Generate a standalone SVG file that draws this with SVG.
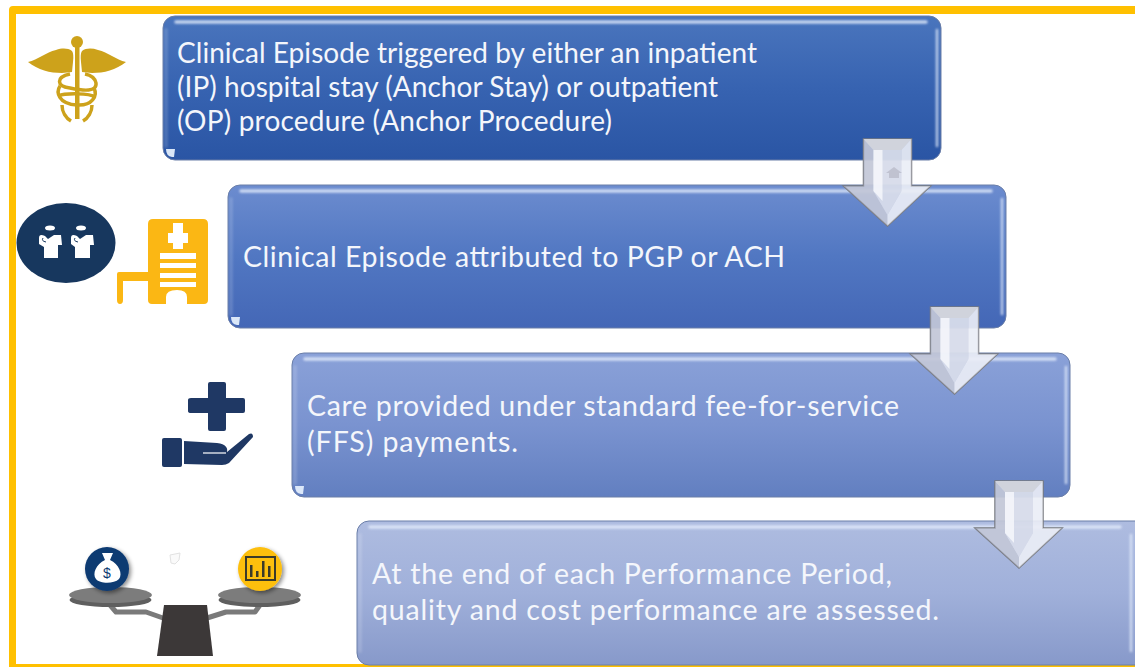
<svg xmlns="http://www.w3.org/2000/svg" width="1135" height="669" viewBox="0 0 1135 669">
<style>
.t{font-family:"Lato","Carlito","Liberation Sans",sans-serif;font-size:28.500px;fill:#f4f6fb}
.t1{font-size:28px}
.box{stroke:#6a7ea8;stroke-width:1}
.hl{fill:none;stroke:#e4edfc;stroke-width:3.500;stroke-linecap:round;opacity:.8;filter:url(#soft)}
.hr{fill:none;stroke:#e4edfc;stroke-width:2.500;stroke-linecap:round;opacity:.75;filter:url(#soft)}
.shade{fill:none;stroke:#fff;stroke-width:4;stroke-linecap:round;opacity:.14;filter:url(#soft)}
.glint{fill:#e3eefc;opacity:.95;filter:url(#tiny)}
.ca{fill:none;stroke:#cda21b;stroke-width:3.500}
.arm{fill:none;stroke:#7a7a7a;stroke-width:5;stroke-linejoin:round}
</style>
<defs>
<filter id="soft" filterUnits="userSpaceOnUse" x="0" y="0" width="1135" height="669"><feGaussianBlur stdDeviation="1"/></filter>
<filter id="tiny" filterUnits="userSpaceOnUse" x="0" y="0" width="1135" height="669"><feGaussianBlur stdDeviation=".5"/></filter>
<filter id="sh" x="-30%" y="-30%" width="160%" height="160%"><feDropShadow dx="2" dy="2" stdDeviation="2" flood-color="#000" flood-opacity=".45"/></filter>
<linearGradient id="g1" x1="0" y1="0" x2="0" y2="1"><stop offset="0" stop-color="#4a75bd"/><stop offset=".5" stop-color="#3763b1"/><stop offset="1" stop-color="#2a55a4"/></linearGradient>
<linearGradient id="g2" x1="0" y1="0" x2="0" y2="1"><stop offset="0" stop-color="#6c8ccf"/><stop offset=".5" stop-color="#5177c2"/><stop offset="1" stop-color="#4467b6"/></linearGradient>
<linearGradient id="g3" x1="0" y1="0" x2="0" y2="1"><stop offset="0" stop-color="#8aa1d8"/><stop offset=".5" stop-color="#7a93d0"/><stop offset="1" stop-color="#627fc0"/></linearGradient>
<linearGradient id="g4" x1="0" y1="0" x2="0" y2="1"><stop offset="0" stop-color="#aebce0"/><stop offset=".5" stop-color="#a0b0da"/><stop offset="1" stop-color="#8799ca"/></linearGradient>
<g id="arrow">
<path d="M-24 0H24V47H43L0 87L-44 47H-24Z" fill="#dfe3f0" fill-opacity=".82" stroke="#77797f" stroke-width="1.500"/>
<path d="M-24 0L-14 11V52L0 76V87L-44 47H-24Z" fill="#b3b8c9" opacity=".6"/>
<path d="M-24 0H24L14 11H-14Z" fill="#d0d3dc"/>
<path d="M24 0L14 11V52L0 76V87L43 47H24Z" fill="#f2f4fa" opacity=".55"/>
<path d="M-14 11H14V52L0 76L-14 52Z" fill="#d4d9e8" opacity=".75"/>
<path d="M-14 11H-5V62L-14 52Z" fill="#f8f9fd" opacity=".8"/>
</g>
</defs>

<g id="frame" fill="#ffc000">
<path d="M9 669V10Q9 6 13 6H1135V14H16V664H1135V667H9Z"/>
</g>

<g id="node-1">
<rect class="box" x="163" y="16" width="778" height="144" rx="12" fill="url(#g1)"/>
<path class="hl" d="M176 22H926"/>
<path class="hr" d="M937 30V146"/>
<path class="shade" d="M166 30V146"/>
<path class="glint" d="M166 149L175 149L174 157H172Q166 156 166 149Z"/>
<text class="t t1" x="177" y="63" textLength="580">Clinical Episode triggered by either an inpatient</text>
<text class="t t1" x="177" y="97" textLength="541">(IP) hospital stay (Anchor Stay) or outpatient</text>
<text class="t t1" x="177" y="131" textLength="435">(OP) procedure (Anchor Procedure)</text>
</g>
<g id="node-2">
<rect class="box" x="228" y="185" width="778" height="143" rx="12" fill="url(#g2)"/>
<path class="hl" d="M241 191H991"/>
<path class="hr" d="M1002 199V314"/>
<path class="shade" d="M231 199V314"/>
<path class="glint" d="M231 317L240 317L239 325H237Q231 324 231 317Z"/>
<text class="t" x="243" y="267" textLength="542">Clinical Episode attributed to PGP or ACH</text>
</g>
<g id="node-3">
<rect class="box" x="292" y="353" width="778" height="144" rx="12" fill="url(#g3)"/>
<path class="hl" d="M305 359H1055"/>
<path class="hr" d="M1066 367V483"/>
<path class="shade" d="M295 367V483"/>
<path class="glint" d="M295 486L304 486L303 494H301Q295 493 295 486Z"/>
<text class="t" x="307" y="416" textLength="592">Care provided under standard fee-for-service</text>
<text class="t" x="307" y="452" textLength="211">(FFS) payments.</text>
</g>
<g id="node-4">
<rect class="box" x="357" y="521" width="790" height="144" rx="12" fill="url(#g4)"/>
<path class="hl" d="M370 527H1120"/>
<path class="hr" d="M1131 535V651"/>
<path class="shade" d="M360 535V651"/>
<text class="t" x="372" y="584" textLength="520">At the end of each Performance Period,</text>
<text class="t" x="372" y="620" textLength="567">quality and cost performance are assessed.</text>
</g>

<g id="connectors">
<use href="#arrow" x="887.500" y="139"/>
<use href="#arrow" x="954.500" y="307"/>
<use href="#arrow" x="1019" y="481"/>
<path d="M894 167L902 173H899V178H889V173H886Z" fill="#b9bcc9" opacity=".8"/>
</g>

<g id="icon-caduceus">
<circle cx="77" cy="42" r="6" fill="#cda21b"/>
<rect x="75" y="45" width="4.500" height="74" fill="#cda21b"/>
<path d="M28 62C38 60 46 52 56 50C62 48 68 48 72 51Q74 54 73 62L72 72L62 73C50 73 38 70 28 62Z" fill="#cda21b"/>
<path d="M126 62C116 60 108 52 98 50C92 48 86 48 82 51Q80 54 81 62L82 72L92 73C104 73 116 70 126 62Z" fill="#cda21b"/>
<path class="ca" d="M70 74C56 77 56 86 70 88C84 91 97 92 96 83C95 78 90 75 85 74"/>
<path class="ca" d="M60 86C56 92 58 104 77 105C92 106 98 96 94 88"/>
<path class="ca" d="M62 105C62 112 66 118 71 121"/>
<path class="ca" d="M92 105C92 112 88 118 83 121"/>
<path class="ca" d="M59 96C64 93 90 93 95 97"/>
</g>

<g id="icon-people">
<ellipse cx="66" cy="243" rx="49.500" ry="40" fill="#17375e"/>
<g fill="#fff">
<ellipse cx="50" cy="228" rx="5" ry="2.500"/>
<ellipse cx="81" cy="228" rx="5" ry="2.500"/>
<path d="M39 238Q39 233 45 236L48 239L54 235H61L62 245H58V258H44V247L39 244Z"/>
<path d="M71 238Q71 233 77 236L80 239L86 235H93L94 245H90V258H75V247L71 244Z"/>
</g>
<path d="M43 238Q41 241 46 242M75 238Q73 241 78 242" fill="none" stroke="#17375e" stroke-width="1"/>
</g>

<g id="icon-hospital">
<path d="M153 219H203Q208 219 208 224V300Q208 304 204 304H187V297Q187 290 177 290Q166 290 166 297V304H152Q148 304 148 300V281H123V300Q123 304 120 304Q117 304 117 300V274Q117 272 119 272H148V224Q148 219 153 219Z" fill="#fbb714"/>
<path d="M173 223H183V233H188V243H183V249H173V243H168V233H173Z" fill="#fff"/>
<g fill="#fff"><rect x="160" y="253" width="36" height="6"/><rect x="160" y="263" width="36" height="5"/><rect x="160" y="273" width="36" height="5"/><rect x="160" y="282" width="36" height="5"/></g>
</g>

<g id="icon-care" fill="#1f3864">
<path d="M210 382H224Q226 382 226 384V398H243Q245 398 245 400V411Q245 413 243 413H226V429Q226 431 224 431H210Q208 431 208 429V413H191Q188 413 188 411V400Q188 398 191 398H208V384Q208 382 210 382Z"/>
<rect x="162" y="438" width="20" height="29" rx="2"/>
<path d="M184 441L217 443C226 444 228 448 227 452L249 434Q253 432 253 437L229 463Q226 465 222 465L184 464Z"/>
<path d="M203 453H226" fill="none" stroke="#fff" stroke-width="1.200"/>
</g>

<g id="icon-scale">
<path class="arm" d="M110 605L116 612H146L163 618"/>
<path class="arm" d="M260 605L255 612H226L207 618"/>
<ellipse cx="110.500" cy="600" rx="41" ry="7" fill="#5f5f5f"/>
<ellipse cx="110.500" cy="595" rx="41.500" ry="8" fill="#7c7c7c"/>
<ellipse cx="259.500" cy="600" rx="41" ry="7" fill="#5f5f5f"/>
<ellipse cx="259.500" cy="595" rx="41.500" ry="8" fill="#7c7c7c"/>
<path d="M164 605H207L213 656H157Z" fill="#3c3838"/>
<circle cx="107" cy="569" r="22" fill="#0d3a72" filter="url(#sh)"/>
<path d="M102 553H113L110 560C119 564 123 574 119 579C114 584 100 584 96 579C92 574 96 564 105 560Z" fill="#fff"/>
<text x="107" y="578" font-family="Liberation Sans,sans-serif" font-size="14" fill="#0d3a72" text-anchor="middle">$</text>
<circle cx="260" cy="569" r="22" fill="#fdbf0f" filter="url(#sh)"/>
<rect x="246" y="557" width="29" height="23" fill="none" stroke="#3a3a2a" stroke-width="2"/>
<g fill="#3a3a2a"><rect x="250" y="565" width="2.500" height="12"/><rect x="256" y="571" width="2.500" height="6"/><rect x="262" y="561" width="2.500" height="16"/><rect x="268" y="566" width="2.500" height="11"/></g>
<path d="M170 555L180 553L179 560L175 564L171 563Z" fill="#fafafa" stroke="#e2e2e2"/>
</g>
</svg>
